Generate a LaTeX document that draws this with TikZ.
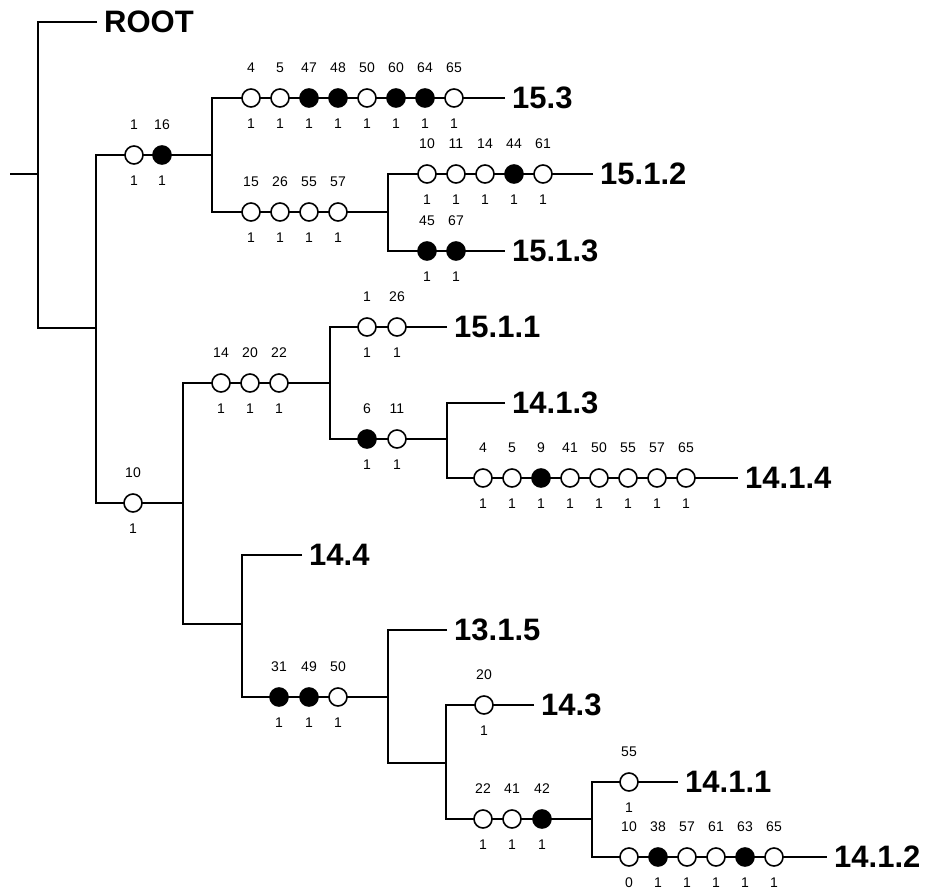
\documentclass[tikz,border=0pt]{standalone}
\usepackage{fontspec}
\setmainfont{Liberation Sans}
\usetikzlibrary{backgrounds}
\tikzset{
  oc/.style={circle,draw,line width=1.6pt,fill=white,minimum size=18pt,inner sep=0pt},
  fc/.style={oc,fill=black},
  lbl/.style={font=\fontsize{14}{14}\selectfont,inner sep=0pt},
  big/.style={font=\fontsize{31}{31}\selectfont\bfseries,anchor=west,inner xsep=7pt,inner ysep=0pt},
  wire/.style={line width=1.7pt}
}
\newcommand{\crow}[3]{%
  \foreach \xx/\ta/\tb/\sty [count=\i] in {#3} {
    \node[\sty] (#1-\i) at (\xx,#2) {};
    \node[lbl] (#1-\i-t) at (\xx,#2-30) {\ta};
    \node[lbl] (#1-\i-b) at (\xx,#2+26) {\tb};
  }}
\begin{document}
\begin{tikzpicture}[x=1pt,y=-1pt]
\useasboundingbox (0,0) rectangle (928,893);
% junctions
\coordinate (s0) at (10,174);
\coordinate (a0) at (38,174);
\coordinate (aT) at (38,22);
\coordinate (aB) at (38,328);
\coordinate (b0) at (96,328);
\coordinate (bT) at (96,155);
\coordinate (bB) at (96,503);
\coordinate (c0) at (212,155);
\coordinate (cT) at (212,98);
\coordinate (cB) at (212,212);
\coordinate (d0) at (388,212);
\coordinate (dT) at (388,174);
\coordinate (dB) at (388,251);
\coordinate (e0) at (183,503);
\coordinate (eT) at (183,383);
\coordinate (eB) at (183,624);
\coordinate (f0) at (330,383);
\coordinate (fT) at (330,327);
\coordinate (fB) at (330,439);
\coordinate (g0) at (447,439);
\coordinate (gT) at (447,403);
\coordinate (gB) at (447,478);
\coordinate (h0) at (242,624);
\coordinate (hT) at (242,555);
\coordinate (hB) at (242,697);
\coordinate (i0) at (388,697);
\coordinate (iT) at (388,630);
\coordinate (iB) at (388,763);
\coordinate (k0) at (446,763);
\coordinate (kT) at (446,705);
\coordinate (kB) at (446,819);
\coordinate (m0) at (592,819);
\coordinate (mT) at (592,782);
\coordinate (mB) at (592,857);
% leaf labels
\node[big] (ROOT) at (97,22) {ROOT};
\node[big] (L153) at (505,98) {15.3};
\node[big] (L1512) at (593,174) {15.1.2};
\node[big] (L1513) at (505,251) {15.1.3};
\node[big] (L1511) at (447,327) {15.1.1};
\node[big] (L1413) at (505,403) {14.1.3};
\node[big] (L1414) at (738,478) {14.1.4};
\node[big] (L144) at (302,555) {14.4};
\node[big] (L1315) at (447,630) {13.1.5};
\node[big] (L143) at (534,705) {14.3};
\node[big] (L1411) at (678,782) {14.1.1};
\node[big] (L1412) at (827,857) {14.1.2};
% rows of circles
\crow{r1}{155}{134/1/1/oc,162/16/1/fc}
\crow{r2}{98}{251/4/1/oc,280/5/1/oc,309/47/1/fc,338/48/1/fc,367/50/1/oc,396/60/1/fc,425/64/1/fc,454/65/1/oc}
\crow{r3}{212}{251/15/1/oc,280/26/1/oc,309/55/1/oc,338/57/1/oc}
\crow{r4}{174}{427/10/1/oc,456/11/1/oc,485/14/1/oc,514/44/1/fc,543/61/1/oc}
\crow{r5}{251}{427/45/1/fc,456/67/1/fc}
\crow{r6}{503}{133/10/1/oc}
\crow{r7}{383}{221/14/1/oc,250/20/1/oc,279/22/1/oc}
\crow{r8}{327}{367/1/1/oc,397/26/1/oc}
\crow{r9}{439}{367/6/1/fc,397/11/1/oc}
\crow{r10}{478}{483/4/1/oc,512/5/1/oc,541/9/1/fc,570/41/1/oc,599/50/1/oc,628/55/1/oc,657/57/1/oc,686/65/1/oc}
\crow{r11}{697}{279/31/1/fc,309/49/1/fc,338/50/1/oc}
\crow{r12}{705}{484/20/1/oc}
\crow{r13}{819}{483/22/1/oc,512/41/1/oc,542/42/1/fc}
\crow{r14}{782}{629/55/1/oc}
\crow{r15}{857}{629/10/0/oc,658/38/1/fc,687/57/1/oc,716/61/1/oc,745/63/1/fc,774/65/1/oc}
% connectors
\begin{pgfonlayer}{background}
\draw[wire] (s0) -- (a0);
\draw[wire] (ROOT.west) -- (aT) -- (aB) -- (b0);
\draw[wire] (c0) -- (bT) -- (bB) -- (e0);
\draw[wire] (L153.west) -- (cT) -- (cB) -- (d0);
\draw[wire] (L1512.west) -- (dT) -- (dB) -- (L1513.west);
\draw[wire] (f0) -- (eT) -- (eB) -- (h0);
\draw[wire] (L1511.west) -- (fT) -- (fB) -- (g0);
\draw[wire] (L1413.west) -- (gT) -- (gB) -- (L1414.west);
\draw[wire] (L144.west) -- (hT) -- (hB) -- (i0);
\draw[wire] (L1315.west) -- (iT) -- (iB) -- (k0);
\draw[wire] (L143.west) -- (kT) -- (kB) -- (m0);
\draw[wire] (L1411.west) -- (mT) -- (mB) -- (L1412.west);
\end{pgfonlayer}
\end{tikzpicture}
\end{document}
